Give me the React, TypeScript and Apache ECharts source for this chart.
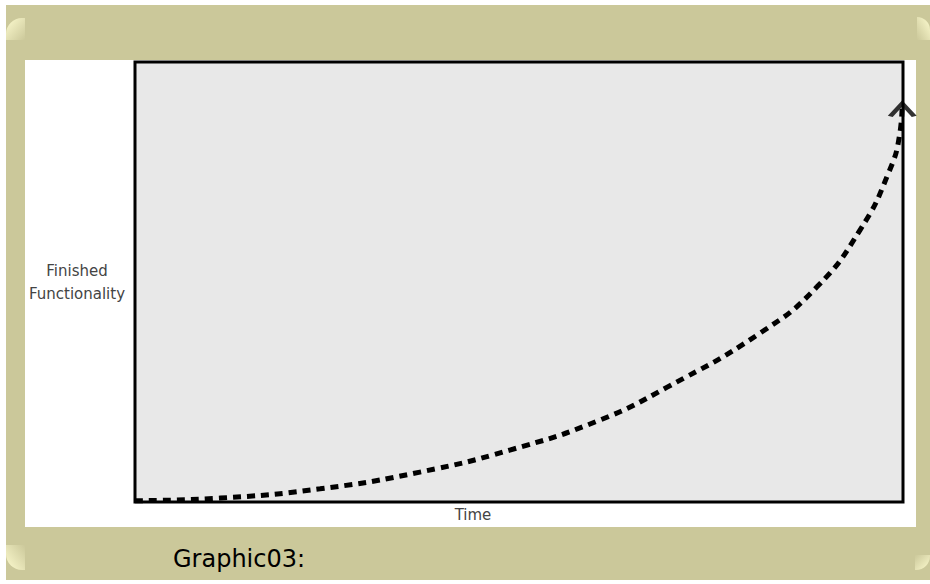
import React, { useEffect, useRef } from "react";
import * as echarts from "echarts";

const timeValues = [0, 11.1, 24.1, 37.1, 48.8, 60.5, 69.3, 81.4, 88.8, 94.4, 98.0, 99.6, 99.9];
const functionalityValues = [0.3, 0.9, 3.0, 6.8, 11.8, 18.6, 26.1, 38.4, 48.9, 61.8, 74.3, 83.9, 90.7];
const xAxisName = "Time";
const yAxisName = "Finished\nFunctionality";
const captionText = "Graphic03:";

const KHAKI = "#cbc89a";
const CREAM = "#fdfbcf";

export default function App() {
  const ref = useRef<HTMLDivElement>(null);

  useEffect(() => {
    document.body.style.margin = "0";
    if (!ref.current) return;
    const chart = echarts.init(ref.current, null, { renderer: "svg" });
    const curve = timeValues.map((t, i) => [t, functionalityValues[i]]);
    const last = curve[curve.length - 1];

    const fade = (x0: number, y0: number, x1: number, y1: number) =>
      new echarts.graphic.LinearGradient(x0, y0, x1, y1, [
        { offset: 0, color: CREAM },
        { offset: 1, color: KHAKI },
      ]);

    chart.setOption({
      animation: false,
      backgroundColor: "#ffffff",
      graphic: [
        {
          type: "rect",
          z: -10,
          silent: true,
          shape: { x: 6, y: 5, width: 924, height: 575 },
          style: { fill: KHAKI },
        },
        {
          type: "rect",
          z: -9,
          silent: true,
          shape: { x: 6, y: 18, width: 19, height: 22, r: [16, 0, 0, 0] },
          style: { fill: fade(0, 0, 1, 1) },
        },
        {
          type: "rect",
          z: -9,
          silent: true,
          shape: { x: 917, y: 17, width: 13, height: 23, r: [0, 14, 0, 0] },
          style: { fill: fade(1, 0, 0, 1) },
        },
        {
          type: "rect",
          z: -9,
          silent: true,
          shape: { x: 915, y: 555, width: 15, height: 15, r: [0, 0, 14, 0] },
          style: { fill: fade(1, 1, 0, 0) },
        },
        {
          type: "rect",
          z: -9,
          silent: true,
          shape: { x: 6, y: 545, width: 19, height: 25, r: [0, 0, 0, 16] },
          style: { fill: fade(0, 1, 1, 0) },
        },
        {
          type: "rect",
          z: -8,
          silent: true,
          shape: { x: 25, y: 60, width: 891, height: 467 },
          style: { fill: "#ffffff" },
        },
        {
          type: "text",
          z: 5,
          silent: true,
          x: 173,
          y: 559,
          style: {
            text: captionText,
            fill: "#000000",
            font: "normal 24px 'DejaVu Sans'",
            textAlign: "left",
            textVerticalAlign: "middle",
          },
        },
      ],
      grid: {
        left: 135,
        top: 62,
        right: 27,
        bottom: 82,
        show: true,
        backgroundColor: "#e8e8e8",
        borderColor: "#000000",
        borderWidth: 3,
        z: 1,
      },
      xAxis: {
        type: "value",
        min: 0,
        max: 100,
        name: xAxisName,
        nameLocation: "middle",
        nameGap: 13,
        nameTextStyle: {
          fontFamily: "DejaVu Sans",
          fontSize: 15,
          color: "#444444",
          verticalAlign: "middle",
          align: "center",
          padding: [0, 92, 0, 0],
        },
        axisLine: { show: false },
        axisTick: { show: false },
        axisLabel: { show: false },
        splitLine: { show: false },
      },
      yAxis: {
        type: "value",
        min: 0,
        max: 100,
        name: yAxisName,
        nameLocation: "middle",
        nameRotate: 0,
        nameGap: 58,
        nameTextStyle: {
          fontFamily: "DejaVu Sans",
          fontSize: 15,
          color: "#444444",
          align: "center",
          verticalAlign: "middle",
          lineHeight: 23,
        },
        axisLine: { show: false },
        axisTick: { show: false },
        axisLabel: { show: false },
        splitLine: { show: false },
      },
      series: [
        {
          type: "line",
          data: curve,
          smooth: 0.5,
          showSymbol: false,
          clip: false,
          silent: true,
          z: 3,
          lineStyle: { color: "#000000", width: 5, type: [8, 6] },
        },
        {
          type: "scatter",
          data: [last],
          clip: false,
          silent: true,
          z: 4,
          symbol: "path://M0,12 L12,0 L24,12",
          symbolSize: [24, 13],
          symbolOffset: [0, 7],
          itemStyle: {
            color: "rgba(0,0,0,0)",
            borderColor: "#000000",
            borderWidth: 4,
          },
        },
      ],
    });
    return () => chart.dispose();
  }, []);

  return <div ref={ref} style={{ width: 930, height: 584 }} />;
}
